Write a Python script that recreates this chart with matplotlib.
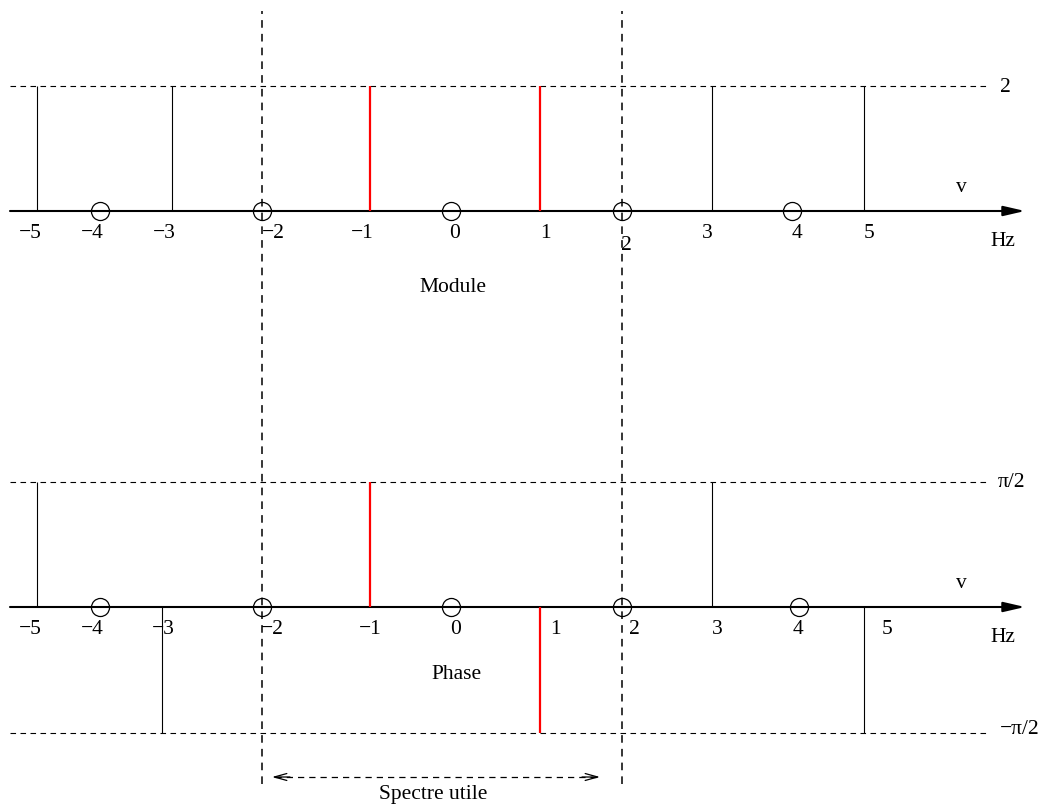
import matplotlib
matplotlib.use("Agg")
import numpy as np
import matplotlib.pyplot as plt

# -------------------------------------
# data (positions in Hz as drawn on the sketch)
# -------------------------------------
tick_labels = ["−5", "−4", "−3", "−2", "−1", "0", "1", "2", "3", "4", "5"]

# module panel
mod_stem_x = [-4.84, -3.26, -0.95, 1.04, 3.05, 4.83]
mod_stem_h = [2, 2, 2, 2, 2, 2]
mod_stem_red = [False, False, True, True, False, False]
mod_zero_x = [-4.11, -2.21, 0.0, 2.0, 3.99]
mod_label_x = [-4.92, -4.19, -3.35, -2.08, -1.04, 0.04, 1.10, 2.05, 3.00, 4.05, 4.89]
mod_label_y = [-0.35, -0.35, -0.35, -0.35, -0.35, -0.35, -0.35, -0.53, -0.35, -0.35, -0.35]
mod_level = 2

# phase panel
ph_stem_x = [-4.84, -3.38, -0.95, 1.04, 3.05, 4.83]
ph_stem_h = [np.pi / 2, -np.pi / 2, np.pi / 2, -np.pi / 2, np.pi / 2, -np.pi / 2]
ph_stem_red = [False, False, True, True, False, False]
ph_zero_x = [-4.11, -2.21, 0.0, 2.0, 4.07]
ph_label_x = [-4.92, -4.19, -3.36, -2.09, -0.95, 0.05, 1.22, 2.15, 3.11, 4.06, 5.10]
ph_levels = [np.pi / 2, -np.pi / 2]

band_edges = [-2.21, 2.0]

# -------------------------------------
# figure / axes
# -------------------------------------
plt.rcParams["font.family"] = ["Liberation Serif", "DejaVu Serif"]
FS = 15.5
W, H = 1042, 812
fig = plt.figure(figsize=(W / 100, H / 100), dpi=100)

PX_HZ = 85.5
X0 = 451
xlim = (-X0 / PX_HZ, (W - X0) / PX_HZ)


def hz(px):
    return (px - X0) / PX_HZ


# top axes: y=0 at pixel 212, 62.5 px per unit
k_top = 62.5
ax1 = fig.add_axes([0, 0, 1, 1])
ax1.set_xlim(*xlim)
ax1.set_ylim(-(H - 212) / k_top, 212 / k_top)
ax1.axis("off")

# bottom axes: y=0 at pixel 608, ~80 px per rad
k_bot = 125.5 / (np.pi / 2)
ax2 = fig.add_axes([0, 0, 1, 1])
ax2.set_xlim(*xlim)
ax2.set_ylim(-(H - 608) / k_bot, 608 / k_bot)
ax2.axis("off")
ax2.patch.set_alpha(0)

axis_style = dict(arrowstyle="-|>,head_length=1.3,head_width=0.3",
                  lw=1.5, color="black", shrinkA=0, shrinkB=0)
dash_h = (0, (5, 4))


def draw_panel(ax, stem_x, stem_h, stem_red, zero_x, label_x, label_y, k):
    # frequency axis
    ax.annotate("", xy=(hz(1025), 0), xytext=(hz(10), 0), arrowprops=axis_style)
    for x, h, red in zip(stem_x, stem_h, stem_red):
        if red:
            ax.vlines(x, 0, h, color="#ff0000", lw=1.6, zorder=3)
        else:
            ax.vlines(x, 0, h, color="black", lw=0.8, zorder=3)
    ax.plot(zero_x, [0] * len(zero_x), "o", ms=13, mfc="none",
            mec="black", mew=0.9, zorder=4)
    for x, y, t in zip(label_x, label_y, tick_labels):
        ax.text(x, y, t, ha="center", va="center", fontsize=FS)
    ax.text(hz(961), 24 / k, "v", ha="center", va="center", fontsize=FS)
    ax.text(hz(1003), -30 / k, "Hz", ha="center", va="center", fontsize=FS)


draw_panel(ax1, mod_stem_x, mod_stem_h, mod_stem_red, mod_zero_x,
           mod_label_x, mod_label_y, k_top)
ax1.hlines(mod_level, hz(10), hz(990), color="black", lw=0.8, linestyles=[dash_h])
ax1.text(hz(1005), mod_level, "2", ha="center", va="center", fontsize=FS)
ax1.text(0.02, -1.2, "Module", ha="center", va="center", fontsize=FS)

ph_label_y = [-22 / k_bot] * len(ph_label_x)
draw_panel(ax2, ph_stem_x, ph_stem_h, ph_stem_red, ph_zero_x,
           ph_label_x, ph_label_y, k_bot)
for lv in ph_levels:
    ax2.hlines(lv, hz(10), hz(990), color="black", lw=0.8, linestyles=[dash_h])
ax2.text(hz(1012), ph_levels[0], "π/2", ha="center", va="center", fontsize=FS)
ax2.text(hz(1020), ph_levels[1] + 4 / k_bot, "−π/2", ha="center", va="center", fontsize=FS)
ax2.text(0.07, -67 / k_bot, "Phase", ha="center", va="center", fontsize=FS)

# useful band
for x in band_edges:
    ax1.axvline(x, ymin=1 - 785 / H, ymax=1 - 12 / H, color="black",
                lw=1.1, linestyle=(0, (5, 4)), zorder=5)

y_arr = -(778 - 608) / k_bot
ax2.plot([hz(275), hz(597)], [y_arr, y_arr], color="black", lw=0.9,
         linestyle=(0, (5, 4)))
for tip, tail in ((hz(272), hz(290)), (hz(600), hz(582))):
    ax2.annotate("", xy=(tip, y_arr), xytext=(tail, y_arr),
                 arrowprops=dict(arrowstyle="->,head_length=0.9,head_width=0.25",
                                 lw=0.9, color="black", shrinkA=0, shrinkB=0))
ax2.text(hz(433), -(795 - 608) / k_bot, "Spectre utile", ha="center",
         va="center", fontsize=FS)

fig.savefig("out.png", dpi=100)
